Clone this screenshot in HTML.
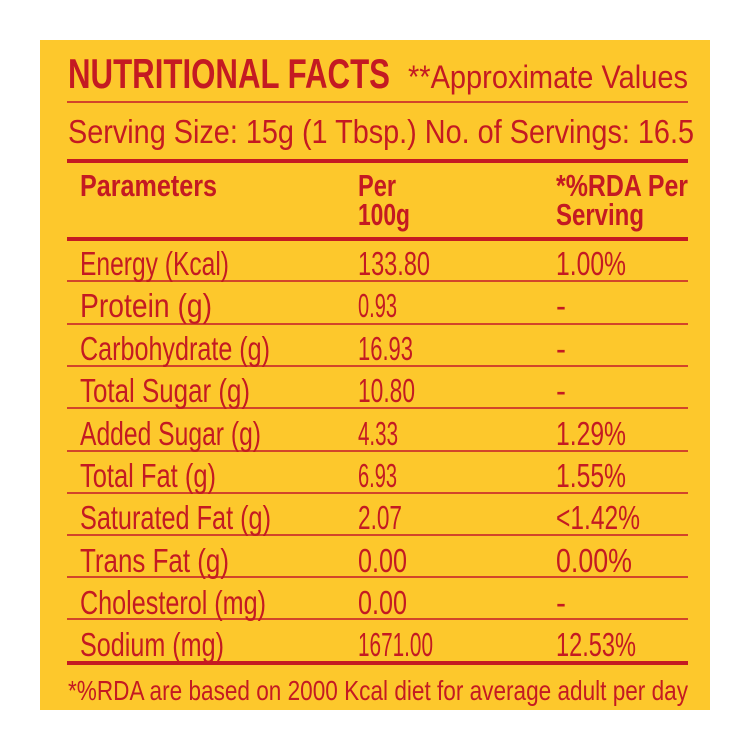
<!DOCTYPE html>
<html><head><meta charset="utf-8"><style>html,body{margin:0;padding:0;background:#fff}svg{display:block}</style></head><body>
<svg width="750" height="750" viewBox="0 0 750 750" xmlns="http://www.w3.org/2000/svg" font-family="Liberation Sans Narrow, Liberation Sans, sans-serif" fill="#c41a22">
<rect x="0" y="0" width="750" height="750" fill="#fff"/>
<rect x="40" y="40" width="670" height="670" fill="#fdc82c"/>
<text x="68" y="88" font-size="42" font-weight="bold" textLength="322" lengthAdjust="spacingAndGlyphs">NUTRITIONAL FACTS</text>
<text x="408" y="88" font-size="32" textLength="280" lengthAdjust="spacingAndGlyphs">**Approximate Values</text>
<text x="68" y="143" font-size="33" textLength="626" lengthAdjust="spacingAndGlyphs">Serving Size: 15g (1 Tbsp.)  No. of Servings: 16.5</text>
<text x="80" y="196" font-size="31" font-weight="bold" textLength="137" lengthAdjust="spacingAndGlyphs">Parameters</text>
<text x="358" y="196" font-size="31" font-weight="bold" textLength="38" lengthAdjust="spacingAndGlyphs">Per</text>
<text x="358" y="225" font-size="31" font-weight="bold" textLength="52" lengthAdjust="spacingAndGlyphs">100g</text>
<text x="556" y="196" font-size="31" font-weight="bold" textLength="132" lengthAdjust="spacingAndGlyphs">*%RDA Per</text>
<text x="556" y="225" font-size="31" font-weight="bold" textLength="88" lengthAdjust="spacingAndGlyphs">Serving</text>
<text x="68" y="700" font-size="28" textLength="620" lengthAdjust="spacingAndGlyphs">*%RDA are based on 2000 Kcal diet for average adult per day</text>
<g stroke="#c41a22">
<line x1="67" y1="102" x2="688" y2="102" stroke-width="2" stroke="#d2452a"/>
<line x1="67" y1="161" x2="688" y2="161" stroke-width="4"/>
<line x1="67" y1="239" x2="688" y2="239" stroke-width="4"/>
<line x1="67" y1="663" x2="688" y2="663" stroke-width="4"/>
</g>
<g stroke="#d2452a" stroke-width="2">
<line x1="67" y1="281" x2="688" y2="281"/><line x1="67" y1="324" x2="688" y2="324"/>
<line x1="67" y1="366" x2="688" y2="366"/><line x1="67" y1="408" x2="688" y2="408"/>
<line x1="67" y1="451" x2="688" y2="451"/><line x1="67" y1="493" x2="688" y2="493"/>
<line x1="67" y1="535" x2="688" y2="535"/><line x1="67" y1="577" x2="688" y2="577"/>
<line x1="67" y1="619" x2="688" y2="619"/>
</g>
<g font-size="33">
<text x="80" y="275" textLength="149" lengthAdjust="spacingAndGlyphs">Energy (Kcal)</text>
<text x="358" y="275" textLength="72" lengthAdjust="spacingAndGlyphs">133.80</text>
<text x="556" y="275" textLength="70" lengthAdjust="spacingAndGlyphs">1.00%</text>
<text x="80" y="317" textLength="132" lengthAdjust="spacingAndGlyphs">Protein (g)</text>
<text x="358" y="317" textLength="39" lengthAdjust="spacingAndGlyphs">0.93</text>
<text x="556" y="317" textLength="10" lengthAdjust="spacingAndGlyphs">-</text>
<text x="80" y="360" textLength="190" lengthAdjust="spacingAndGlyphs">Carbohydrate (g)</text>
<text x="358" y="360" textLength="55" lengthAdjust="spacingAndGlyphs">16.93</text>
<text x="556" y="360" textLength="10" lengthAdjust="spacingAndGlyphs">-</text>
<text x="80" y="402" textLength="170" lengthAdjust="spacingAndGlyphs">Total Sugar (g)</text>
<text x="358" y="402" textLength="57" lengthAdjust="spacingAndGlyphs">10.80</text>
<text x="556" y="402" textLength="10" lengthAdjust="spacingAndGlyphs">-</text>
<text x="80" y="445" textLength="181" lengthAdjust="spacingAndGlyphs">Added Sugar (g)</text>
<text x="358" y="445" textLength="40" lengthAdjust="spacingAndGlyphs">4.33</text>
<text x="556" y="445" textLength="70" lengthAdjust="spacingAndGlyphs">1.29%</text>
<text x="80" y="487" textLength="136" lengthAdjust="spacingAndGlyphs">Total Fat (g)</text>
<text x="358" y="487" textLength="39" lengthAdjust="spacingAndGlyphs">6.93</text>
<text x="556" y="487" textLength="70" lengthAdjust="spacingAndGlyphs">1.55%</text>
<text x="80" y="529" textLength="191" lengthAdjust="spacingAndGlyphs">Saturated Fat (g)</text>
<text x="358" y="529" textLength="44" lengthAdjust="spacingAndGlyphs">2.07</text>
<text x="556" y="529" textLength="84" lengthAdjust="spacingAndGlyphs">&lt;1.42%</text>
<text x="80" y="572" textLength="149" lengthAdjust="spacingAndGlyphs">Trans Fat (g)</text>
<text x="358" y="572" textLength="49" lengthAdjust="spacingAndGlyphs">0.00</text>
<text x="556" y="572" textLength="76" lengthAdjust="spacingAndGlyphs">0.00%</text>
<text x="80" y="614" textLength="186" lengthAdjust="spacingAndGlyphs">Cholesterol (mg)</text>
<text x="358" y="614" textLength="49" lengthAdjust="spacingAndGlyphs">0.00</text>
<text x="556" y="614" textLength="10" lengthAdjust="spacingAndGlyphs">-</text>
<text x="80" y="656" textLength="144" lengthAdjust="spacingAndGlyphs">Sodium (mg)</text>
<text x="358" y="656" textLength="75" lengthAdjust="spacingAndGlyphs">1671.00</text>
<text x="556" y="656" textLength="80" lengthAdjust="spacingAndGlyphs">12.53%</text>
</g>
</svg>
</body></html>
